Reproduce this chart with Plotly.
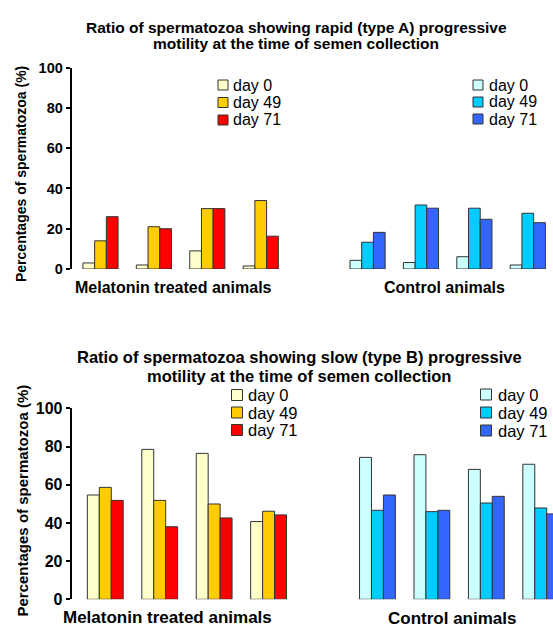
import plotly.graph_objects as go

# Rapid (type A) progressive motility, % of spermatozoa
mel_A_d0 = [3, 2, 9, 1.5]
mel_A_d49 = [14, 21, 30, 34]
mel_A_d71 = [26, 20, 30, 16.3]
ctl_A_d0 = [4.3, 3.2, 6.1, 2]
ctl_A_d49 = [13.3, 31.8, 30.2, 27.7]
ctl_A_d71 = [18.2, 30.2, 24.7, 23]

# Slow (type B) progressive motility, % of spermatozoa
mel_B_d0 = [54.6, 78.5, 76.4, 40.7]
mel_B_d49 = [58.6, 51.8, 49.9, 46.1]
mel_B_d71 = [51.8, 38, 42.6, 44.2]
ctl_B_d0 = [74.3, 75.7, 68, 70.7]
ctl_B_d49 = [46.6, 45.9, 50.4, 47.8]
ctl_B_d71 = [54.6, 46.6, 53.9, 44.7]

days = ["day 0", "day 49", "day 71"]
group_labels = ["Melatonin treated animals", "Control animals"]
y_ticks = [0, 20, 40, 60, 80, 100]

mel_colors = ["#FFFFCC", "#FFCC00", "#FF0000"]
ctl_colors = ["#CCFFFF", "#00CCFF", "#3366FF"]
edge = "#333333"
FONT = "Liberation Sans, Arial, sans-serif"

W, H = 553, 628
n_animals = len(mel_A_d0)
# melatonin animals occupy slots 0..3, one empty slot, then controls
x_mel = list(range(n_animals))
x_ctl = [n_animals + 1 + i for i in range(n_animals)]

fig = go.Figure()

panels = [
    ("x", "y", [mel_A_d0, mel_A_d49, mel_A_d71], [ctl_A_d0, ctl_A_d49, ctl_A_d71]),
    ("x2", "y2", [mel_B_d0, mel_B_d49, mel_B_d71], [ctl_B_d0, ctl_B_d49, ctl_B_d71]),
]
for xa, ya, mel, ctl in panels:
    for k in range(3):
        fig.add_trace(go.Bar(x=x_mel, y=mel[k], name=days[k], xaxis=xa, yaxis=ya,
                             offsetgroup=str(k), showlegend=False,
                             marker=dict(color=mel_colors[k], line=dict(color=edge, width=1))))
        fig.add_trace(go.Bar(x=x_ctl, y=ctl[k], name=days[k], xaxis=xa, yaxis=ya,
                             offsetgroup=str(k), showlegend=False,
                             marker=dict(color=ctl_colors[k], line=dict(color=edge, width=1))))


def px(v):
    return v / W


def py(v):
    return 1 - v / H


def yaxis_style(domain, size):
    return dict(domain=domain, range=[0, 100], tickvals=y_ticks, ticks="outside",
                ticklen=4, tickwidth=2, tickcolor="black", showline=True,
                linewidth=2, linecolor="black", showgrid=False, zeroline=False,
                tickfont=dict(family=FONT, size=size, color="black", weight="bold"),
                automargin=False, fixedrange=True)


def xaxis_style(domain, rng, anchor):
    return dict(domain=domain, range=rng, showticklabels=False, ticks="",
                showline=False, showgrid=False, zeroline=False, anchor=anchor,
                automargin=False, fixedrange=True)


fig.update_layout(
    width=W, height=H,
    margin=dict(l=0, r=0, t=0, b=0),
    paper_bgcolor="white", plot_bgcolor="white",
    barmode="group", bargap=0.342, bargroupgap=0,
    xaxis=xaxis_style([px(71.7), 1], [-0.539, 8.472], "y"),
    yaxis=yaxis_style([py(269), py(67.7)], 14.5),
    xaxis2=xaxis_style([px(77.3), 1], [-0.514, 8.225], "y2"),
    yaxis2=yaxis_style([py(599.3), py(408.3)], 16),
)

ann = []


def text(t, x, y, size, bold=True, xanchor="center", angle=0):
    ann.append(dict(text=t, x=px(x), y=py(y), xref="paper", yref="paper",
                    xanchor=xanchor, yanchor="middle", showarrow=False, textangle=angle,
                    font=dict(family=FONT, size=size, color="black",
                              weight="bold" if bold else "normal")))


# panel titles
text("Ratio of spermatozoa showing rapid (type A) progressive", 296, 27, 15.5)
text("motility at the time of semen collection", 296, 44, 15.5)
text("Ratio of spermatozoa showing slow (type B) progressive", 299, 357, 16.5)
text("motility at the time of semen collection", 299, 376, 16.5)

# y-axis titles
text("Percentages of spermatozoa (%)", 21, 174, 14, angle=-90)
text("Percentages of spermatozoa (%)", 21.5, 501, 15, angle=-90)

# group labels under the bars
text(group_labels[0], 173, 287, 16)
text(group_labels[1], 444.5, 287, 16)
text(group_labels[0], 167, 617, 17)
text(group_labels[1], 452, 618, 17)

# legend keys
shapes = []


def legend(x_sq, ys, colors, size, sq, x_txt):
    for k, yy in enumerate(ys):
        shapes.append(dict(type="rect", xref="paper", yref="paper",
                           x0=px(x_sq - sq / 2), x1=px(x_sq + sq / 2),
                           y0=py(yy + sq / 2), y1=py(yy - sq / 2),
                           fillcolor=colors[k], line=dict(color=edge, width=1)))
        text(days[k], x_txt, yy, size, bold=False, xanchor="left")


legend(223, [85, 102.5, 120], mel_colors, 16, 10, 231)
legend(478, [85, 102, 119], ctl_colors, 16, 10, 487)
legend(237, [395, 412.5, 430], mel_colors, 16.5, 11, 246)
legend(486, [394.5, 412.5, 430.5], ctl_colors, 16.5, 11, 496)

fig.update_layout(annotations=ann, shapes=shapes)

fig.write_html("out.html")
